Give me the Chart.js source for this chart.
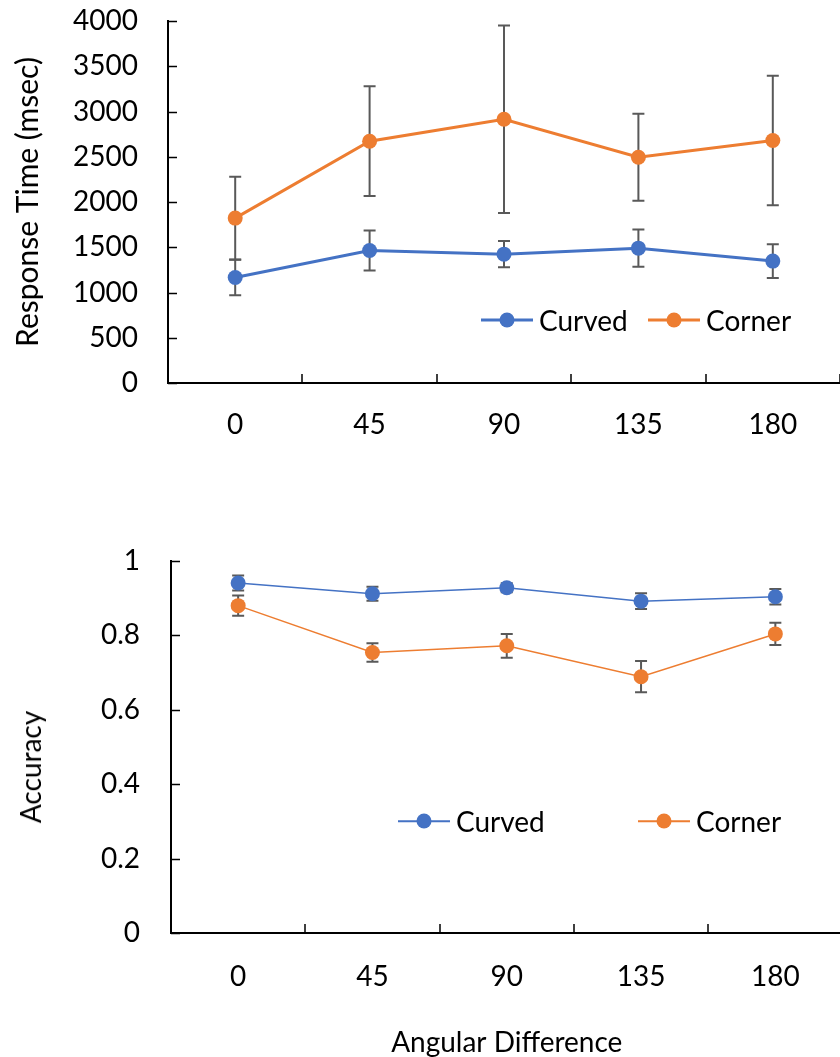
<!DOCTYPE html>
<html>
<head>
<meta charset="utf-8">
<script src="https://cdn.jsdelivr.net/npm/chart.js@4.4.1/dist/chart.umd.min.js"></script>
<style>
  html, body { margin: 0; padding: 0; background: #fff; overflow: hidden; }
  body { width: 840px; height: 1057px; position: relative; font-family: Lato, "Open Sans", sans-serif; }
  canvas { position: absolute; left: 0; }
  #rtCanvas { top: -30px; }
  #accCanvas { top: 500px; }
  .legend-item { position: absolute; display: flex; align-items: center; font-size: 28px; line-height: 1; color: #000; }
  .swatch { position: relative; width: 52px; height: 15px; margin-right: 6px; }
  .swatch .ln { position: absolute; left: 0; right: 0; top: 50%; transform: translateY(-50%); }
  .swatch .dot { position: absolute; left: 50%; top: 50%; width: 15px; height: 15px; border-radius: 50%; transform: translate(-50%, -50%); }
  .ytitle { position: absolute; font-size: 28px; line-height: 1; white-space: nowrap; transform: translate(-50%, -50%) rotate(-90deg); }
</style>
</head>
<body>
<canvas id="rtCanvas" width="850" height="500"></canvas>
<canvas id="accCanvas" width="850" height="557"></canvas>
<div class="ytitle" style="left:30px; top:767px;">Accuracy</div>

<script>
// Categories
const angles = ["0", "45", "90", "135", "180"];
const seriesNames = ["Curved", "Corner"];
const seriesColors = ["#4472C4", "#ED7D31"];

// Response time (msec) with +/- error
const rtCurved = [1166, 1464, 1424, 1490, 1347];
const rtCurvedErr = [196, 220, 146, 205, 186];
const rtCorner = [1822, 2672, 2914, 2495, 2680];
const rtCornerErr = [456, 607, 1036, 480, 716];
const rtTicks = [0, 500, 1000, 1500, 2000, 2500, 3000, 3500, 4000];

// Accuracy with +/- error
const accCurved = [0.941, 0.912, 0.928, 0.892, 0.904];
const accCurvedErr = [0.02, 0.019, 0.012, 0.021, 0.021];
const accCorner = [0.880, 0.754, 0.772, 0.689, 0.804];
const accCornerErr = [0.027, 0.025, 0.032, 0.042, 0.03];
const accTicks = [0, 0.2, 0.4, 0.6, 0.8, 1];

Chart.defaults.font.family = "Lato, 'Open Sans', sans-serif";
Chart.defaults.font.size = 28;
Chart.defaults.color = "#000";

// Error bars drawn under the markers
const errorBars = {
  id: "errorBars",
  beforeDatasetsDraw(chart) {
    const { ctx } = chart;
    const x = chart.scales.x;
    const y = chart.scales.y;
    ctx.save();
    ctx.strokeStyle = "#595959";
    ctx.lineWidth = 2;
    chart.data.datasets.forEach((ds) => {
      (ds.errors || []).forEach((err, i) => {
        const px = x.getPixelForValue(i);
        const top = y.getPixelForValue(ds.data[i] + err);
        const bot = y.getPixelForValue(ds.data[i] - err);
        ctx.beginPath();
        ctx.moveTo(px, top);
        ctx.lineTo(px, bot);
        ctx.moveTo(px - 6, top);
        ctx.lineTo(px + 6, top);
        ctx.moveTo(px - 6, bot);
        ctx.lineTo(px + 6, bot);
        ctx.stroke();
      });
    });
    ctx.restore();
  },
};

// Excel-style tick marks pointing into the plot
const insideTicks = {
  id: "insideTicks",
  afterDraw(chart) {
    const { ctx, chartArea } = chart;
    const x = chart.scales.x;
    const y = chart.scales.y;
    const len = 9;
    ctx.save();
    ctx.strokeStyle = "#000";
    ctx.lineWidth = 1.5;
    ctx.beginPath();
    y.ticks.forEach((t) => {
      const py = Math.round(y.getPixelForValue(t.value)) + 0.5;
      ctx.moveTo(chartArea.left, py);
      ctx.lineTo(chartArea.left + len, py);
    });
    const n = x.ticks.length;
    for (let i = 1; i <= n; i++) {
      const px = Math.round(x.left + (i * x.width) / n);
      ctx.moveTo(px, chartArea.bottom);
      ctx.lineTo(px, chartArea.bottom - len);
    }
    ctx.stroke();
    ctx.restore();
  },
};

function makeChart(canvasId, opts) {
  return new Chart(document.getElementById(canvasId), {
    type: "line",
    data: {
      labels: angles,
      datasets: opts.series.map((s, i) => ({
        label: seriesNames[i],
        data: s.data,
        errors: s.errors,
        borderColor: seriesColors[i],
        backgroundColor: seriesColors[i],
        borderWidth: opts.lineWidth,
        pointRadius: 7.5,
        pointBorderWidth: 0,
        pointHoverRadius: 7.5,
        tension: 0,
      })),
    },
    options: {
      responsive: false,
      animation: false,
      layout: { padding: opts.padding },
      plugins: { legend: { display: false }, tooltip: { enabled: false } },
      scales: {
        x: {
          offset: true,
          grid: { display: true, drawOnChartArea: false, drawTicks: false, offset: true },
          border: { color: "#000", width: 2 },
          ticks: { padding: opts.xPad, maxRotation: 0 },
          title: opts.xTitle
            ? { display: true, text: opts.xTitle, padding: { top: 0, bottom: 0 }, font: { lineHeight: 1 } }
            : { display: false },
          afterFit: (scale) => { scale.height = opts.xHeight; },
        },
        y: {
          min: opts.ticks[0],
          max: opts.ticks[opts.ticks.length - 1],
          afterBuildTicks: (scale) => { scale.ticks = opts.ticks.map((v) => ({ value: v })); },
          grid: { display: true, drawOnChartArea: false, drawTicks: false },
          border: { color: "#000", width: 2 },
          ticks: { padding: opts.yPad, callback: (v) => String(+Number(v).toFixed(1)) },
          title: opts.yTitle
            ? { display: true, text: opts.yTitle, padding: { top: 10, bottom: 0 }, font: { size: 30 } }
            : { display: false },
          afterFit: (scale) => { scale.width = opts.yWidth; },
        },
      },
    },
    plugins: [errorBars, insideTicks],
  });
}

makeChart("rtCanvas", {
  series: [
    { data: rtCurved, errors: rtCurvedErr },
    { data: rtCorner, errors: rtCornerErr },
  ],
  ticks: rtTicks,
  lineWidth: 3,
  padding: { top: 51, right: 10, left: 0, bottom: 0 },
  yWidth: 168,
  xHeight: 87,
  yPad: 30,
  xPad: 25,
  yTitle: "Response Time (msec)",
});

makeChart("accCanvas", {
  series: [
    { data: accCurved, errors: accCurvedErr },
    { data: accCorner, errors: accCornerErr },
  ],
  ticks: accTicks,
  lineWidth: 1.5,
  padding: { top: 61, right: 5, left: 0, bottom: 0 },
  yWidth: 171,
  xHeight: 124,
  yPad: 31,
  xPad: 27,
  xTitle: "Angular Difference",
});

// HTML legends (line + marker sample, like the original)
function buildLegend(top, lefts, lineWidth) {
  seriesNames.forEach((name, i) => {
    const item = document.createElement("div");
    item.className = "legend-item";
    item.style.left = lefts[i] + "px";
    item.style.top = top + "px";
    item.style.transform = "translateY(-50%)";
    item.innerHTML =
      `<span class="swatch"><span class="ln" style="height:${lineWidth}px;background:${seriesColors[i]}"></span>` +
      `<span class="dot" style="background:${seriesColors[i]}"></span></span><span>${name}</span>`;
    document.body.appendChild(item);
  });
}

buildLegend(320, [481, 648], 3);
buildLegend(821, [398, 638], 1.5);
</script>
</body>
</html>
